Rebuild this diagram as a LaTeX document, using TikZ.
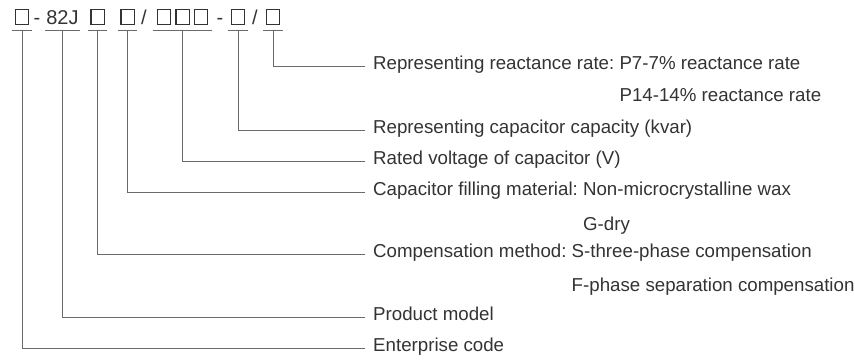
\documentclass[tikz,border=0pt]{standalone}
\usepackage{fontspec}
\setmainfont{Liberation Sans}
\frenchspacing
\definecolor{txtgray}{HTML}{333333}
\definecolor{linegray}{HTML}{6A6A6A}
\newcommand{\codebox}{{\fboxsep=0pt\fboxrule=1.2pt\fbox{\rule{0pt}{13.6pt}\hspace{12pt}}}}
\tikzset{
  code/.style={text=txtgray,font=\fontsize{20}{24}\selectfont,inner sep=0pt,text depth=6pt,anchor=base},
  lbl/.style={text=txtgray,font=\fontsize{18.7}{22}\selectfont,anchor=west,inner xsep=8pt,inner ysep=0pt,text height=0.75em,text depth=0pt},
  link/.style={draw=linegray,line width=1pt}
}
\begin{document}
\begin{tikzpicture}[x=1pt,y=-1pt]
\useasboundingbox (0,0) rectangle (855,362);
%type code
\path (22,24) node(ent)[code,minimum width=19pt]{\codebox}
(37,24) node(dashA)[code]{-}
(62.5,24) node(model)[code,minimum width=35pt]{82J}
(97.5,24) node(comp)[code,minimum width=19pt]{\codebox}
(127.5,24) node(fill)[code,minimum width=19pt]{\codebox}
(144,24) node(slashA)[code]{/}
(182.5,24) node(volt)[code,minimum width=59pt]{\codebox\hspace{4pt}\codebox\hspace{4pt}\codebox}
(220,24) node(dashB)[code]{-}
(238,24) node(cap)[code,minimum width=20pt]{\codebox}
(255,24) node(slashB)[code]{/}
(273,24) node(rate)[code,minimum width=20pt]{\codebox};
%meanings
\path (365,66) node(ratel)[lbl]{Representing reactance rate: P7-7\% reactance rate}
(365,98) node(ratelb)[lbl]{\phantom{Representing reactance rate: }P14-14\% reactance rate}
(365,130) node(capl)[lbl]{Representing capacitor capacity (kvar)}
(365,161) node(voltl)[lbl]{Rated voltage of capacitor (V)}
(365,192) node(filll)[lbl]{Capacitor filling material: Non-microcrystalline wax}
(365,227) node(filllb)[lbl]{\phantom{Capacitor filling material: }G-dry}
(365,254) node(compl)[lbl]{Compensation method: S-three-phase compensation}
(365,288) node(complb)[lbl]{\phantom{Compensation method: }F-phase separation compensation}
(365,317) node(modell)[lbl]{Product model}
(365,348) node(entl)[lbl]{Enterprise code};
\draw[link](rate.south west)--(rate.south east) (rate.south)|-(ratel.west);
\draw[link](cap.south west)--(cap.south east) (cap.south)|-(capl.west);
\draw[link](volt.south west)--(volt.south east) (volt.south)|-(voltl.west);
\draw[link](fill.south west)--(fill.south east) (fill.south)|-(filll.west);
\draw[link](comp.south west)--(comp.south east) (comp.south)|-(compl.west);
\draw[link](model.south west)--(model.south east) (model.south)|-(modell.west);
\draw[link](ent.south west)--(ent.south east) (ent.south)|-(entl.west);
\end{tikzpicture}
\end{document}
